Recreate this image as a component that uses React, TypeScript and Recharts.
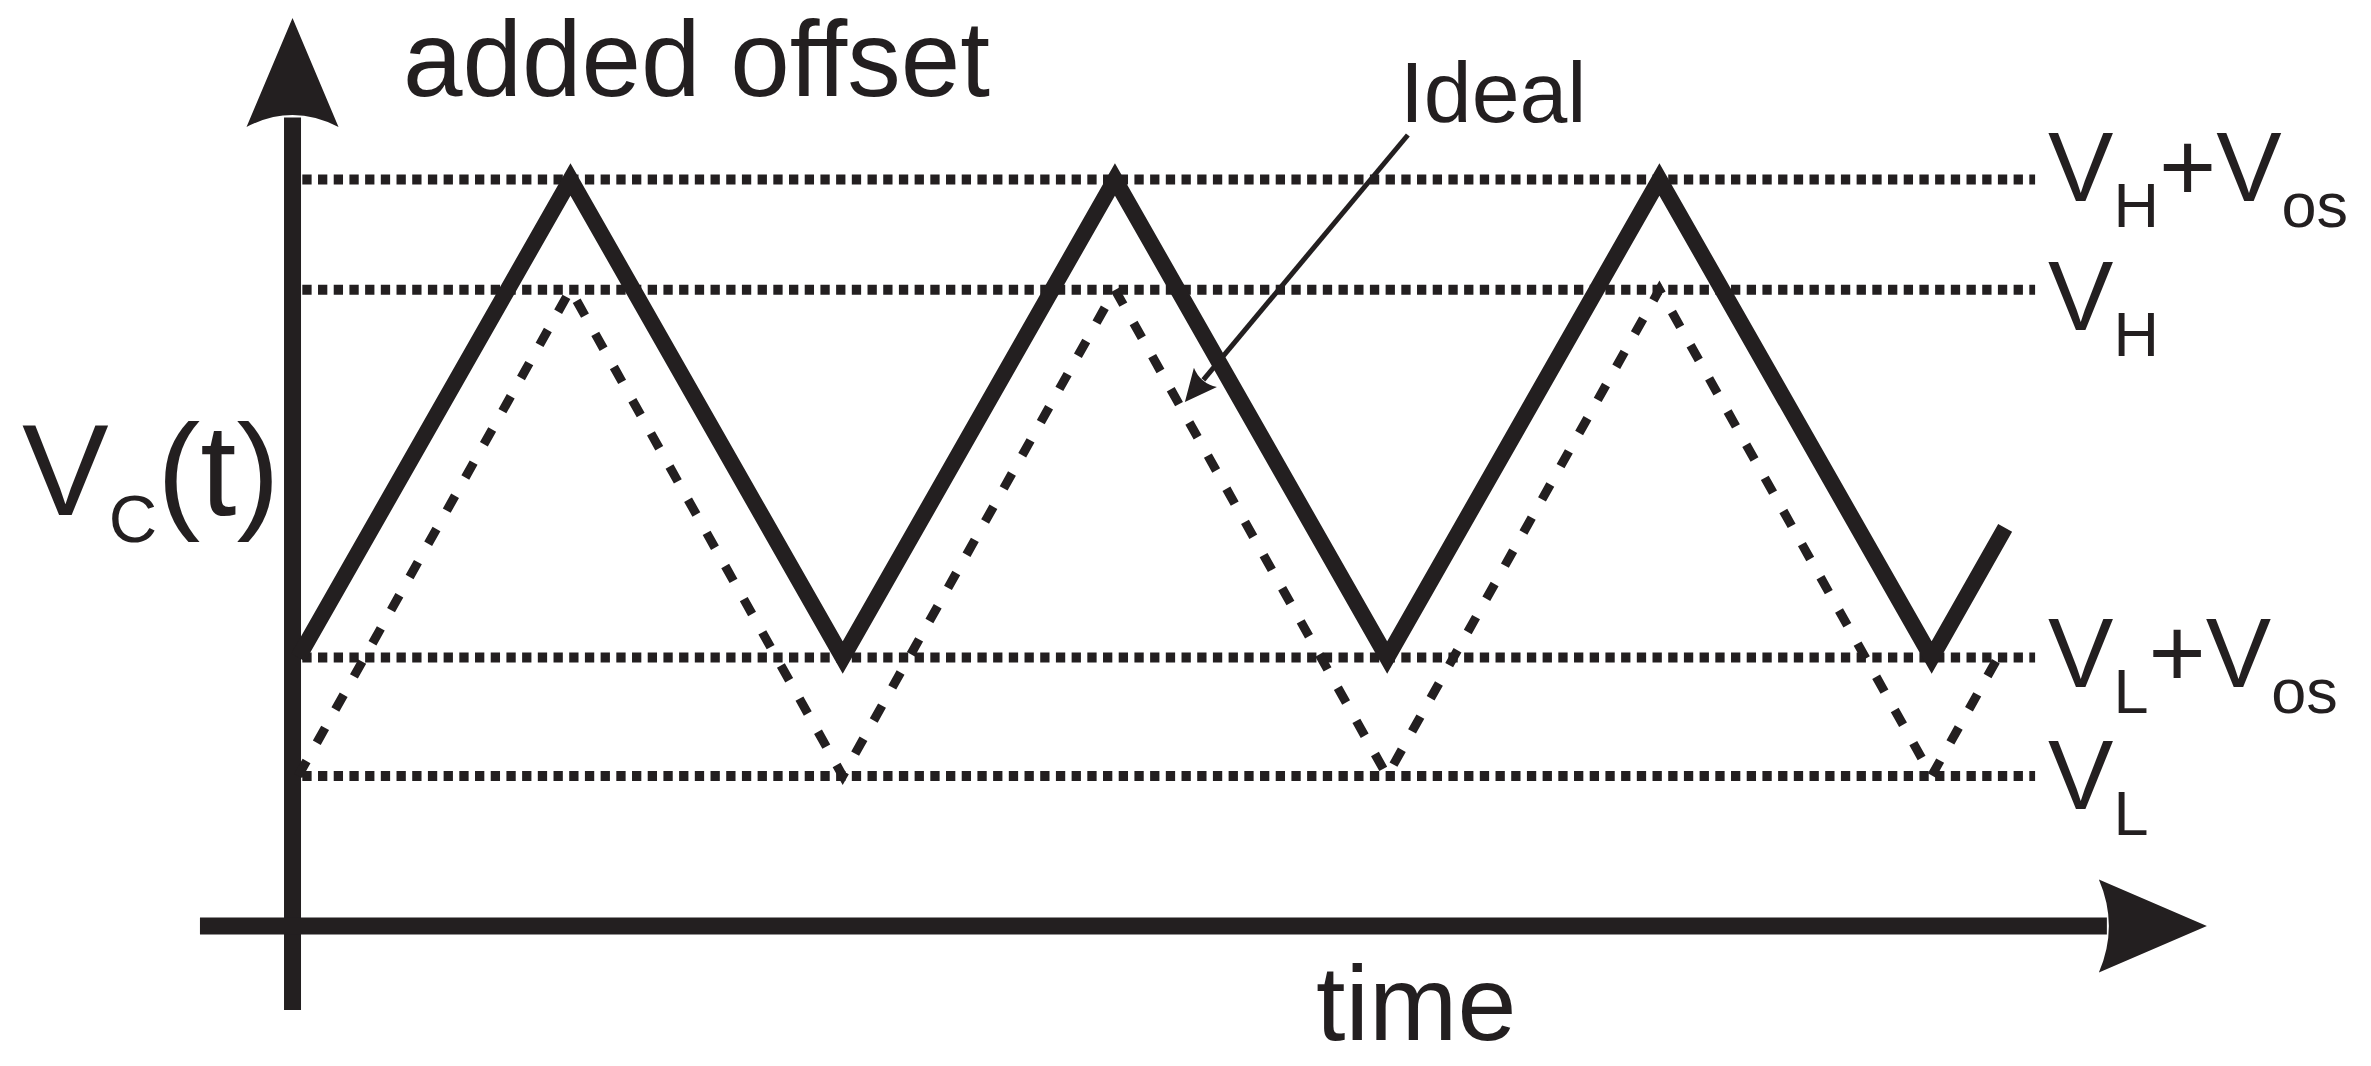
import React from 'react';
import { LineChart, Line, XAxis, YAxis, ReferenceLine, ReferenceDot } from 'recharts';

// ---- data (time in half-periods, voltage in units with V_L = 1) ----
const solidTimes = [0, 1, 2, 3, 4, 5, 6, 6.27];
const solidValues = [1.73, 4.68, 1.73, 4.68, 1.73, 4.68, 1.73, 2.53];
const idealTimes = [0, 1, 2, 3, 4, 5, 6, 6.24];
const idealValues = [1.0, 4.0, 1.0, 4.0, 1.0, 4.0, 1.0, 1.72];

const levelNames = ['V_{H}+V_{os}', 'V_{H}', 'V_{L}+V_{os}', 'V_{L}'];
const levelValues = [4.68, 4.0, 1.73, 1.0];
const levelSpan = [0.015, 6.38];

const axisTitleY = 'V_{C}(t)';
const axisTitleX = 'time';
const offsetTitle = 'added offset';
const idealTitle = 'Ideal';

// ---- layout / style ----
const W = 2371;
const H = 1066;
const INK = '#231f20';
const FONT = '"Liberation Sans", Arial, Helvetica, sans-serif';
const X_DOMAIN = [-1, 7.5];
const Y_DOMAIN = [-0.5, 5.75];
const MARGIN = { top: 6, right: 31, bottom: 47, left: 26 };

const levelLabelDy = [22, 40, 29, 33];
const levelLabelGap = 13;

const solidData = solidTimes.map((t, i) => ({ t, v: solidValues[i] }));
const idealData = idealTimes.map((t, i) => ({ t, v: idealValues[i] }));

// annotation anchors (data units)
const yArrow = [{ x: -0.021, y: -0.444 }, { x: -0.021, y: 5.676 }];
const xArrow = [{ x: -0.361, y: 0.074 }, { x: 7.011, y: 0.074 }];
const idealPointer = [{ x: 4.076, y: 4.954 }, { x: 3.257, y: 3.307 }];
const textAnchors = {
  offset: { x: 0.385, y: 5.195 },
  ideal: { x: 4.047, y: 5.034 },
  yTitle: { x: -1.015, y: 2.61 },
  xTitle: { x: 3.739, y: -0.63 },
};

function Rich({ x, y, spec, size, subSize, subDy }: any) {
  const parts = spec.split(/_\{([^}]*)\}/);
  let cur = 0;
  const spans: any[] = [];
  parts.forEach((p: string, i: number) => {
    if (!p) return;
    const isSub = i % 2 === 1;
    const target = isSub ? subDy : 0;
    spans.push(
      <tspan key={i} dy={target - cur} fontSize={isSub ? subSize : size}>
        {p}
      </tspan>
    );
    cur = target;
  });
  return (
    <text x={x} y={y} fill={INK} fontFamily={FONT} textAnchor="start">
      {spans}
    </text>
  );
}

function arrowShape(width: number, len: number, halfW: number, notch: number) {
  return (props: any) => {
    const { x1, y1, x2, y2 } = props;
    const dx = x2 - x1;
    const dy = y2 - y1;
    const L = Math.sqrt(dx * dx + dy * dy) || 1;
    const ux = dx / L;
    const uy = dy / L;
    const nx = -uy;
    const ny = ux;
    const bx = x2 - ux * len;
    const by = y2 - uy * len;
    const lx = x2 - ux * (len - notch * 0.8);
    const ly = y2 - uy * (len - notch * 0.8);
    const cx = bx + ux * notch * 2;
    const cy = by + uy * notch * 2;
    const d = `M${x2},${y2} L${bx + nx * halfW},${by + ny * halfW} Q${cx},${cy} ${bx - nx * halfW},${by - ny * halfW} Z`;
    return (
      <g>
        <line x1={x1} y1={y1} x2={lx} y2={ly} stroke={INK} strokeWidth={width} />
        <path d={d} fill={INK} />
      </g>
    );
  };
}

function levelShape(idx: number) {
  return (props: any) => {
    const { x1, y1, x2, y2 } = props;
    return (
      <g>
        <line
          x1={x1}
          y1={y1}
          x2={x2}
          y2={y2}
          stroke={INK}
          strokeWidth={10}
          strokeDasharray="9.3 6.4"
        />
        <Rich
          x={x2 + levelLabelGap}
          y={y1 + levelLabelDy[idx]}
          spec={levelNames[idx]}
          size={98}
          subSize={63}
          subDy={26}
        />
      </g>
    );
  };
}

function textShape(spec: string, size: number, subSize = 0, subDy = 0) {
  return (props: any) => (
    <Rich x={props.cx} y={props.cy} spec={spec} size={size} subSize={subSize} subDy={subDy} />
  );
}

export default function App() {
  return (
    <div style={{ position: 'absolute', left: 0, top: 0, width: W, height: H, background: '#fff' }}>
      <LineChart width={W} height={H} margin={MARGIN}>
        <XAxis type="number" dataKey="t" domain={X_DOMAIN} allowDataOverflow hide />
        <YAxis type="number" dataKey="v" domain={Y_DOMAIN} allowDataOverflow hide />

        {levelValues.map((v, i) => (
          <ReferenceLine
            key={levelNames[i]}
            segment={[{ x: levelSpan[0], y: v }, { x: levelSpan[1], y: v }]}
            ifOverflow="visible"
            shape={levelShape(i)}
          />
        ))}

        <ReferenceLine segment={yArrow} ifOverflow="visible" shape={arrowShape(17, 109, 46, 12)} />
        <ReferenceLine segment={xArrow} ifOverflow="visible" shape={arrowShape(17, 108, 46.5, 10)} />
        <ReferenceLine segment={idealPointer} ifOverflow="visible" shape={arrowShape(5, 32, 15, 4)} />

        <Line
          data={idealData}
          dataKey="v"
          type="linear"
          stroke={INK}
          strokeWidth={9}
          strokeDasharray="17 21"
          dot={false}
          activeDot={false}
          isAnimationActive={false}
        />
        <Line
          data={solidData}
          dataKey="v"
          type="linear"
          stroke={INK}
          strokeWidth={16}
          strokeLinejoin="miter"
          strokeMiterlimit={6}
          dot={false}
          activeDot={false}
          isAnimationActive={false}
        />

        <ReferenceDot x={textAnchors.offset.x} y={textAnchors.offset.y} ifOverflow="visible" shape={textShape(offsetTitle, 107)} />
        <ReferenceDot x={textAnchors.ideal.x} y={textAnchors.ideal.y} ifOverflow="visible" shape={textShape(idealTitle, 86)} />
        <ReferenceDot x={textAnchors.yTitle.x} y={textAnchors.yTitle.y} ifOverflow="visible" shape={textShape(axisTitleY, 130, 67, 27)} />
        <ReferenceDot x={textAnchors.xTitle.x} y={textAnchors.xTitle.y} ifOverflow="visible" shape={textShape(axisTitleX, 106)} />
      </LineChart>
    </div>
  );
}
